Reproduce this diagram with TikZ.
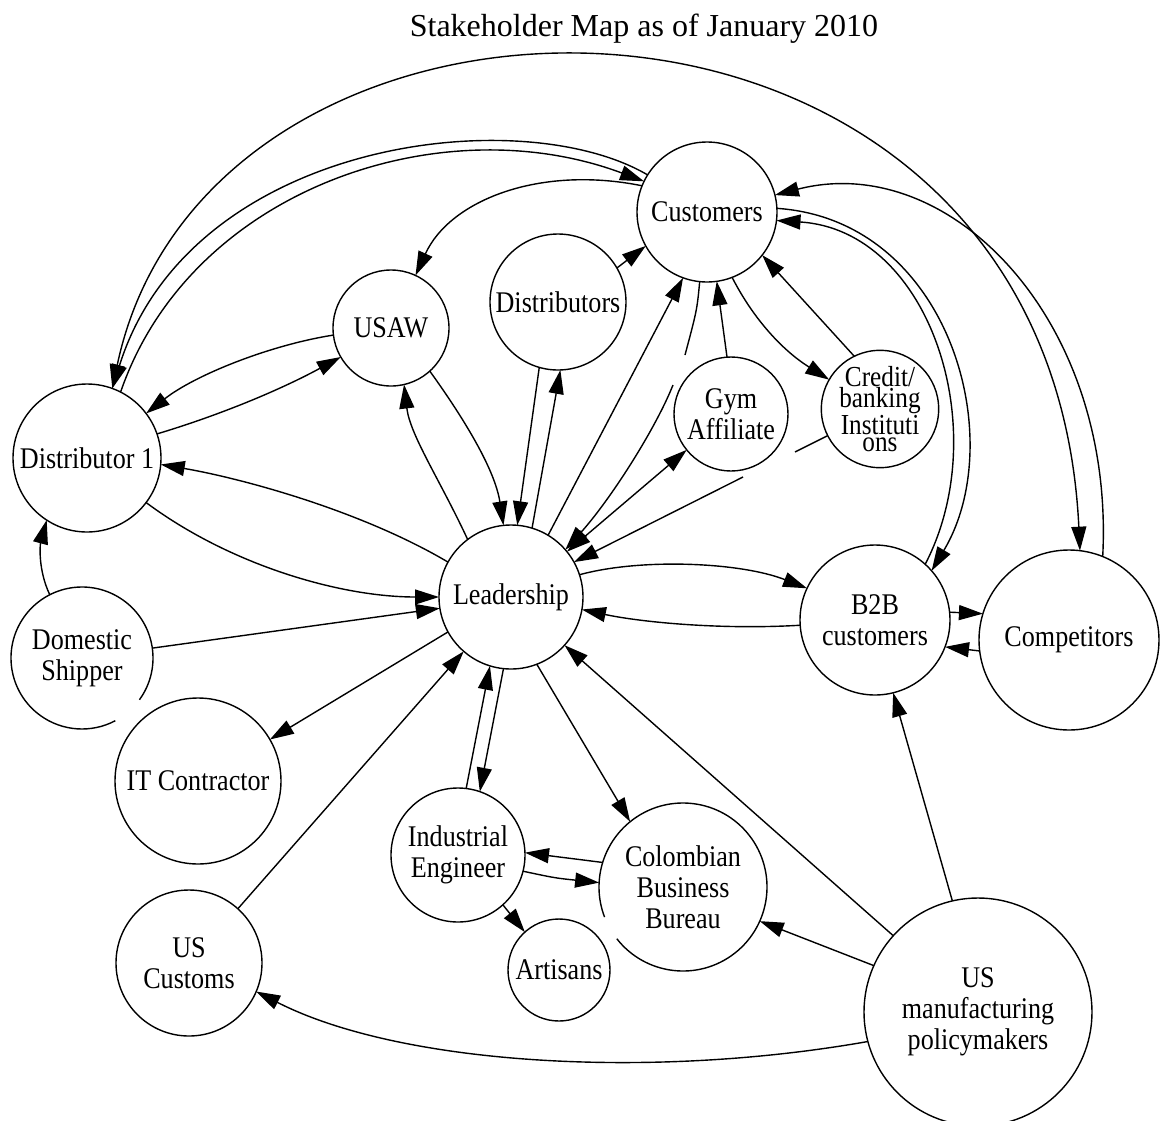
\documentclass[tikz,border=0pt]{standalone}
\usepackage{fontspec}
\setmainfont{Liberation Serif}
\newfontfamily\labelfont{Liberation Serif}[FakeStretch=0.87]
\usetikzlibrary{arrows.meta}

\begin{document}
\begin{tikzpicture}[x=1pt,y=-1pt,
  line width=1.4pt,
  stake/.style={circle, draw, inner sep=0pt, outer sep=0pt, align=center,
    font=\labelfont\fontsize{30}{31}\selectfont},
  openstake/.style={stake, draw=none},
  arr/.style={-{Triangle[length=24pt,width=15pt]}},
  arrboth/.style={{Triangle[length=24pt,width=15pt]}-{Triangle[length=24pt,width=15pt]}}]

\useasboundingbox (0,0) rectangle (1160,1120);
\fill[white] (0,0) rectangle (1160,1120);

\node[font=\fontsize{32}{36}\selectfont] (title) at (644,29) {Stakeholder Map as of January 2010};

% stakeholders
\node[stake, minimum size=140] (cust)   at (707,212) {Customers};
\node[stake, minimum size=136] (dists)  at (558,302) {Distributors};
\node[stake, minimum size=116] (usaw)   at (391,328) {USAW};
\node[stake, minimum size=148] (d1)     at (87,458)  {Distributor 1};
\node[stake, minimum size=144] (lead)   at (511,597) {Leadership};
\node[stake, minimum size=114] (gym)    at (731,414) {Gym\\Affiliate};
\node[stake, minimum size=116, font=\labelfont\fontsize{29}{17}\selectfont] (credit) at (880,409) {Credit/\\banking\\Instituti\\ons};
\node[stake, minimum size=150] (b2b)    at (875,620) {B2B\\customers};
\node[stake, minimum size=180] (comp)   at (1069,640) {Competitors};
\node[openstake, minimum size=142] (dom) at (82,658) {Domestic\\Shipper};
\node[stake, minimum size=166] (itc)    at (198,781) {IT Contractor};
\node[stake, minimum size=134] (ie)     at (458,855) {Industrial\\Engineer};
\node[openstake, minimum size=168] (cbb) at (683,887) {Colombian\\Business\\Bureau};
\node[stake, minimum size=102] (art)    at (559,970) {Artisans};
\node[stake, minimum size=146] (usc)    at (189,963) {US\\Customs};
\node[stake, minimum size=228] (usm)    at (978,1012) {US\\manufacturing\\policymakers};

% outlines with breaks
\draw (dom.-36) arc[start angle=36, end angle=-298, radius=71];
\draw (cbb.218) arc[start angle=-218, end angle=-561, radius=84];

% long arcs over the top
\draw[arrboth] (d1.70) .. controls (210,-75) and (1050,-75) .. (comp.83);
\draw[arr] (cust.148) .. controls (520,100) and (190,140) .. (d1.70);
\draw[arr] (d1.63) .. controls (190,190) and (440,105) .. (cust.154);
\draw[arr] (cust.158) .. controls (540,165) and (450,200) .. (usaw.65);

% around Customers
\draw[arr] (dists.30) -- (cust.209);
\draw[arr] (lead.59) -- (cust.250);
\coordinate (g1) at (685,355);
\coordinate (g2) at (673,385);
\draw (cust.264) .. controls (697,310) .. (g1);
\draw[arr] (g2) .. controls (655,430) and (610,500) .. (lead.41);
\draw[arr] (gym.94) -- (cust.278);
\draw[arr] (cust.291) .. controls (755,322) and (785,352) .. (credit.150);
\draw[arr] (credit.116) -- (cust.322);
\coordinate (g3) at (795,452);
\coordinate (g4) at (743,477);
\draw (credit.207) -- (g3);
\draw[arr] (g4) -- (lead.29);
\draw[arrboth] (gym.219) -- (lead.39);
\draw[arr] (cust.3) .. controls (950,220) and (1010,440) .. (b2b.41);
\draw[arr] (b2b.48) .. controls (995,430) and (930,230) .. (cust.353);
\draw[arr] (comp.68) .. controls (1115,320) and (950,150) .. (cust.14);

% left side
\draw[arr] (usaw.187) .. controls (270,345) and (195,375) .. (d1.37);
\draw[arr] (d1.19) .. controls (220,415) and (280,390) .. (usaw.210);
\draw[arr] (lead.151) .. controls (360,510) and (240,478) .. (d1.355);
\draw[arr] (d1.323) .. controls (230,565) and (340,597) .. (lead.180);
\draw[arr] (dom.8) -- (lead.189);
\draw[arr] (dom.117) .. controls (38,570) and (40,545) .. (d1.237);
\draw[arr] (lead.209) -- (itc.30);
\draw[arr] (usc.48) -- (lead.229);
\draw[arr] (usm.195) .. controls (650,1080) and (400,1065) .. (usc.337);

% below Leadership
\draw[arr] (lead.264) -- (ie.71);
\draw[arr] (ie.83) -- (lead.253);
\draw[arr] (lead.291) -- (cbb.129);
\draw[arr] (usm.138) -- (lead.318);
\draw[arr] (usm.156) -- (cbb.336);
\draw[arr] (usm.103) -- (b2b.284);
\draw[arr] (cbb.163) -- (ie.2);
\draw[arr] (ie.346) .. controls (555,878) .. (cbb.177);
\draw[arr] (ie.312) -- (art.132);

% right of Leadership
\draw[arr] (lead.18) .. controls (640,558) and (740,562) .. (b2b.155);
\draw[arr] (b2b.184) .. controls (720,630) and (640,622) .. (lead.350);
\draw[arr] (b2b.6) -- (comp.163);
\draw[arr] (comp.187) -- (b2b.339);

% above Leadership
\draw[arr] (usaw.312) .. controls (465,420) and (495,470) .. (lead.96);
\draw[arr] (lead.127) .. controls (440,480) and (410,435) .. (usaw.283);
\draw[arr] (dists.254) -- (lead.85);
\draw[arr] (lead.73) -- (dists.272);

\end{tikzpicture}
\end{document}
